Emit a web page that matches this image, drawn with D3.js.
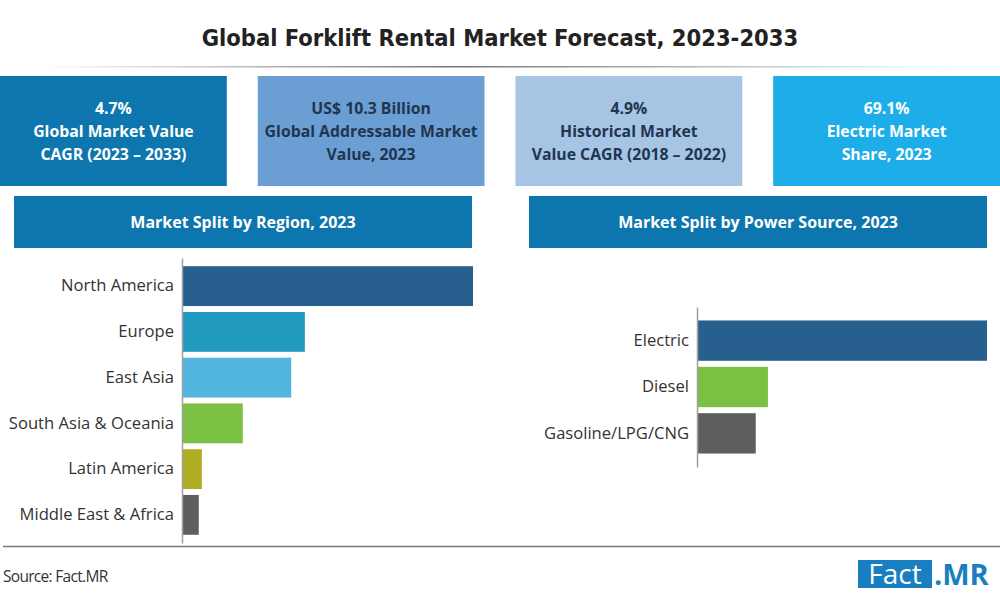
<!DOCTYPE html>
<html>
<head>
<meta charset="utf-8">
<script src="https://cdn.jsdelivr.net/npm/d3@7"></script>
<style>
  body { margin: 0; background: #fff; }
  svg { display: block; }
</style>
</head>
<body>
<div id="app"></div>
<script>
const w = 1000;
const h = 600;

// ---------- data ----------
const title = "Global Forklift Rental Market Forecast, 2023-2033";

const kpiValues = ["4.7%", "US$ 10.3 Billion", "4.9%", "69.1%"];
const kpiLabels = [
  ["Global Market Value", "CAGR (2023 \u2013 2033)"],
  ["Global Addressable Market", "Value, 2023"],
  ["Historical Market", "Value CAGR (2018 \u2013 2022)"],
  ["Electric Market", "Share, 2023"]
];
const kpiFills = ["#0e76ae", "#6b9fd4", "#a6c4e4", "#1daee9"];
const kpiText = ["#ffffff", "#1f3550", "#1f3550", "#ffffff"];

const regionTitle = "Market Split by Region, 2023";
const regions = ["North America", "Europe", "East Asia", "South Asia & Oceania", "Latin America", "Middle East & Africa"];
const regionShare = [46.9, 19.8, 17.6, 9.8, 3.2, 2.7];
const regionColors = ["#275f8f", "#2299be", "#52b5e0", "#7bc043", "#b0ad24", "#5e5e5e"];

const powerTitle = "Market Split by Power Source, 2023";
const powerSources = ["Electric", "Diesel", "Gasoline/LPG/CNG"];
const powerShare = [69.1, 16.9, 14.0];
const powerColors = ["#275f8f", "#7bc043", "#5e5e5e"];

const source = "Source: Fact.MR";

// ---------- svg ----------
const svg = d3.select('#app')
  .append('svg')
  .attr('width', w)
  .attr('height', h);

const defs = svg.append('defs');
const grad = defs.append('linearGradient').attr('id', 'sep');
grad.append('stop').attr('offset', '0%').attr('stop-color', '#fff');
grad.append('stop').attr('offset', '45%').attr('stop-color', '#777');
grad.append('stop').attr('offset', '100%').attr('stop-color', '#fff');

//////////TITLE//////////
svg.append('text')
  .attr('x', w / 2)
  .attr('y', 46)
  .attr('text-anchor', 'middle')
  .style('font-family', '"DejaVu Sans Condensed", sans-serif')
  .style('font-weight', 'bold')
  .style('font-size', '23.5px')
  .attr('fill', '#222')
  .text(title);

svg.append('rect')
  .attr('x', 40).attr('y', 66)
  .attr('width', 920).attr('height', 1.5)
  .attr('fill', 'url(#sep)');

//////////KPI BOXES//////////
const boxX = d3.scaleBand().domain(d3.range(4)).range([0, 1000]).paddingInner(0.12);

const boxes = svg.append('g')
  .selectAll('g')
  .data(kpiValues)
  .join('g')
  .attr('transform', (d, i) => `translate(${boxX(i)},76)`);

boxes.append('rect')
  .attr('width', boxX.bandwidth())
  .attr('height', 110)
  .attr('fill', (d, i) => kpiFills[i]);

boxes.append('text')
  .attr('text-anchor', 'middle')
  .style('font-family', '"Open Sans", sans-serif')
  .style('font-weight', 'bold')
  .style('font-size', '15.8px')
  .attr('fill', (d, i) => kpiText[i])
  .selectAll('tspan')
  .data((d, i) => [d].concat(kpiLabels[i]))
  .join('tspan')
  .attr('x', boxX.bandwidth() / 2)
  .attr('y', (d, j) => 38 + j * 23)
  .text(d => d);

//////////SECTION HEADERS//////////
const headers = [
  { x: 14, text: regionTitle },
  { x: 529, text: powerTitle }
];

headers.forEach(hd => {
  svg.append('rect')
    .attr('x', hd.x).attr('y', 196)
    .attr('width', 458).attr('height', 52)
    .attr('fill', '#0e76ae');
  svg.append('text')
    .attr('x', hd.x + 229).attr('y', 228)
    .attr('text-anchor', 'middle')
    .style('font-family', '"Open Sans", sans-serif')
    .style('font-weight', 'bold')
    .style('font-size', '16px')
    .attr('fill', '#fff')
    .text(hd.text);
});

//////////BAR CHARTS//////////
function barChart(cats, vals, colors, x0, x1, y0, y1, pOuter) {
  const x = d3.scaleLinear().domain([0, d3.max(vals)]).range([x0, x1]);
  const y = d3.scaleBand().domain(cats).range([y0, y1]).paddingInner(0.13).paddingOuter(pOuter);

  const g = svg.append('g');

  g.selectAll('rect')
    .data(cats)
    .join('rect')
    .attr('x', x(0))
    .attr('y', d => y(d))
    .attr('width', (d, i) => x(vals[i]) - x(0))
    .attr('height', y.bandwidth())
    .attr('fill', (d, i) => colors[i]);

  const axis = g.append('g')
    .attr('transform', `translate(${x0},0)`)
    .call(d3.axisLeft(y).tickSize(0).tickSizeOuter(0).tickPadding(8));
  axis.select('.domain').attr('stroke', '#a0a0a0').attr('stroke-width', 1.5);
  axis.selectAll('text')
    .style('font-family', '"Open Sans", sans-serif')
    .style('font-size', '16.6px')
    .attr('fill', '#333');
}

barChart(regions, regionShare, regionColors, 182, 473, 258, 543, 0.18);
barChart(powerSources, powerShare, powerColors, 697, 987, 307, 467, 0.29);

//////////FOOTER//////////
svg.append('line')
  .attr('x1', 3).attr('x2', 1000)
  .attr('y1', 546.5).attr('y2', 546.5)
  .attr('stroke', '#777')
  .attr('stroke-width', 1.5);

svg.append('text')
  .attr('x', 3).attr('y', 582)
  .style('font-family', '"Open Sans", sans-serif')
  .style('font-size', '15.5px')
  .style('letter-spacing', '-0.7px')
  .attr('fill', '#333')
  .text(source);

const logo = svg.append('g').attr('transform', 'translate(858,560)');
logo.append('rect').attr('width', 74).attr('height', 28).attr('fill', '#1a7fc1');
logo.append('text')
  .attr('x', 37).attr('y', 24)
  .attr('text-anchor', 'middle')
  .style('font-family', '"Open Sans", sans-serif')
  .style('font-size', '28px')
  .attr('fill', '#fff')
  .text('Fact');
logo.append('text')
  .attr('x', 76).attr('y', 25)
  .style('font-family', '"Open Sans", sans-serif')
  .style('font-weight', 'bold')
  .style('font-size', '29px')
  .attr('fill', '#1a7fc1')
  .text('.MR');
</script>
</body>
</html>
